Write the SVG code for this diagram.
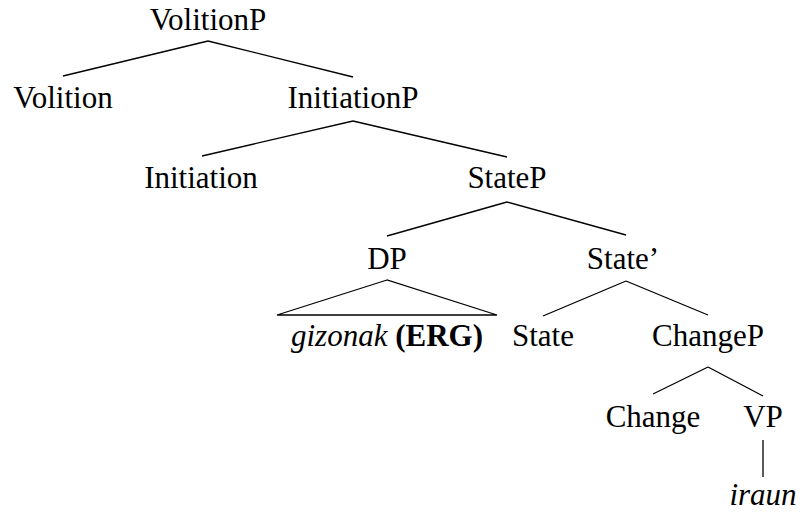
<svg xmlns="http://www.w3.org/2000/svg" width="800" height="513" viewBox="0 0 800 513">
<style>
text{font-family:"Liberation Serif","Times New Roman",serif;font-size:31px;fill:#000;text-anchor:middle}
.it{font-style:italic}
.b{font-weight:bold}
line,polygon{stroke:#000;stroke-width:1.3;fill:none}
</style>
<rect width="800" height="513" fill="#fff"/>
<g id="connectors">
<line x1="208" y1="41" x2="63" y2="76"/>
<line x1="208" y1="41" x2="353" y2="77"/>
<line x1="353" y1="121" x2="202" y2="156"/>
<line x1="353" y1="121" x2="507" y2="157"/>
<line x1="507" y1="202" x2="387" y2="236"/>
<line x1="507" y1="202" x2="626" y2="235"/>
<polygon points="387,280 277,315 497,315"/>
<line x1="626" y1="281" x2="543" y2="316"/>
<line x1="626" y1="281" x2="708" y2="315"/>
<line x1="708" y1="367" x2="653" y2="394"/>
<line x1="708" y1="367" x2="763" y2="396"/>
<line x1="763" y1="440" x2="763" y2="477"/>
</g>
<g id="VolitionP"><text x="208" y="30">VolitionP</text></g>
<g id="Volition"><text x="63" y="108">Volition</text></g>
<g id="InitiationP"><text x="353" y="108">InitiationP</text></g>
<g id="Initiation"><text x="201" y="188">Initiation</text></g>
<g id="StateP"><text x="507" y="188">StateP</text></g>
<g id="DP"><text x="387" y="269">DP</text></g>
<g id="StateBar"><text x="623" y="269">State’</text></g>
<g id="gizonak"><text x="387" y="346"><tspan class="it">gizonak</tspan> <tspan class="b">(ERG)</tspan></text></g>
<g id="State"><text x="543" y="346">State</text></g>
<g id="ChangeP"><text x="708" y="346">ChangeP</text></g>
<g id="Change"><text x="653" y="427">Change</text></g>
<g id="VP"><text x="763" y="427">VP</text></g>
<g id="iraun"><text class="it" x="763" y="505">iraun</text></g>
</svg>
